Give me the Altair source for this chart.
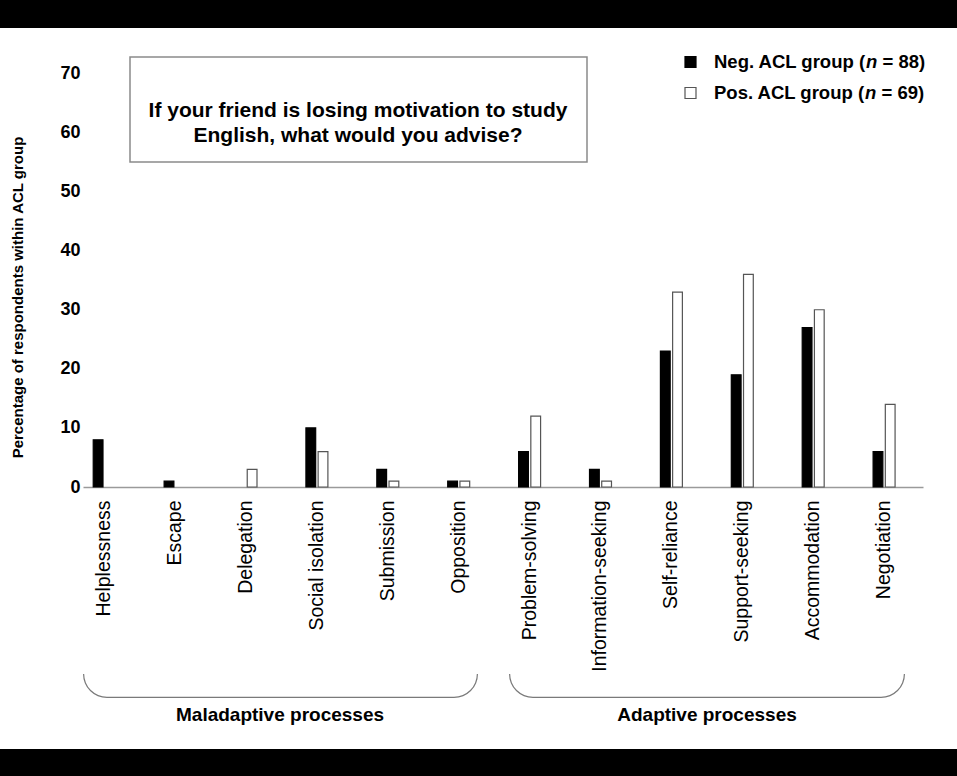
import altair as alt
import pandas as pd

# ---------------- data ----------------
categories = ["Helplessness", "Escape", "Delegation", "Social isolation", "Submission", "Opposition",
              "Problem-solving", "Information-seeking", "Self-reliance", "Support-seeking",
              "Accommodation", "Negotiation"]
neg_values = [8, 1, 0, 10, 3, 1, 6, 3, 23, 19, 27, 6]
pos_values = [0, 0, 3, 6, 1, 1, 12, 1, 33, 36, 30, 14]
groups = ["Neg. ACL group", "Pos. ACL group"]
group_n = ["88", "69"]
y_ticks = [0, 10, 20, 30, 40, 50, 60, 70]
box_title = ["If your friend is losing motivation to study", "English, what would you advise?"]
process_labels = ["Maladaptive processes", "Adaptive processes"]

rows = []
for c, n, p in zip(categories, neg_values, pos_values):
    rows.append({"category": c, "group": groups[0], "value": n})
    rows.append({"category": c, "group": groups[1], "value": p})
df = pd.DataFrame(rows)
one = pd.DataFrame({"k": [0]})

FONT = "Liberation Sans"

# ---------------- bars ----------------
bars = alt.Chart(df).transform_filter("datum.value > 0").mark_bar(strokeWidth=1.2).encode(
    x=alt.X("category:N", sort=categories,
            scale=alt.Scale(paddingInner=0.69, paddingOuter=0.269, align=0.268),
            axis=alt.Axis(title=None, labelAngle=270, labelAlign="right", labelBaseline="middle",
                          labelPadding=13, labelFontSize=19.5, labelFont=FONT, labelColor="black",
                          labelLimit=0, ticks=False, domainColor="#9a9a9a", domainWidth=1.5,
                          grid=False)),
    xOffset=alt.XOffset("group:N", sort=groups, scale=alt.Scale(paddingInner=0.2)),
    y=alt.Y("value:Q", scale=alt.Scale(domain=[0, 76], nice=False),
            axis=alt.Axis(values=y_ticks, title="Percentage of respondents within ACL group",
                          titleFont=FONT, titleFontSize=15, titleFontWeight="bold", titleColor="black",
                          titleX=-66, titleY=259, titleAngle=270, titleAlign="center",
                          titleBaseline="middle", labelFont=FONT, labelFontSize=18,
                          labelFontWeight="bold", labelColor="black", labelPadding=3,
                          ticks=False, domain=False, grid=False)),
    fill=alt.Fill("group:N", scale=alt.Scale(domain=groups, range=["black", "white"]), legend=None),
    stroke=alt.Stroke("group:N", scale=alt.Scale(domain=groups, range=["black", "#555555"]), legend=None),
)

# ---------------- decorations ----------------
def rect(x, x2, y, y2, fill, stroke=None, sw=0):
    kw = dict(fill=fill, strokeWidth=sw)
    if stroke:
        kw["stroke"] = stroke
    return alt.Chart(one).mark_rect(**kw).encode(
        x=alt.value(x), x2=alt.value(x2), y=alt.value(y), y2=alt.value(y2))

def text(t, x, y, size, align="left", weight="bold", style="normal", lh=None):
    kw = dict(font=FONT, fontSize=size, fontWeight=weight, fontStyle=style, align=align,
              baseline="middle", color="black")
    if lh:
        kw["lineHeight"] = lh
    return alt.Chart(one).mark_text(**kw).encode(x=alt.value(x), y=alt.value(y), text=alt.value(t))

# black bands (top 0-28 px, bottom 749-776 px of the page)
band_top = rect(-83, 874, -38, -10, "black")
band_bot = rect(-83, 874, 711, 738, "black")

# title box
box = rect(47, 504, 19, 124, "white", "#8a8a8a", 1.5)
box_text = text(box_title, 275, 73, 21, align="center", lh=25)

# legend (manual, to get the italic n)
W = {"N": 722, "e": 556, "g": 611, ".": 278, " ": 278, "A": 722, "C": 722, "L": 611, "r": 389,
     "o": 611, "u": 611, "p": 611, "(": 333, "n": 611, "=": 584, "8": 556, ")": 333, "P": 667,
     "s": 556, "6": 556, "9": 556}

def tw(s, size):
    return sum(W[ch] for ch in s) / 1000.0 * size

LSIZE = 18.5
legend_layers = []
row_y = [24, 55]
fills = ["black", "white"]
strokes = ["black", "#555555"]
for i, g in enumerate(groups):
    yc = row_y[i]
    legend_layers.append(rect(602, 613, yc - 5.5, yc + 5.5, fills[i], strokes[i], 1.2))
    x0 = 631
    p1 = g + " ("
    legend_layers.append(text(p1, x0, yc, LSIZE))
    x1 = x0 + tw(p1, LSIZE)
    legend_layers.append(text("n", x1, yc, LSIZE, style="italic"))
    x2 = x1 + tw("n", LSIZE) + tw(" ", LSIZE)
    legend_layers.append(text("= " + group_n[i] + ")", x2, yc, LSIZE))

# braces
BR = "#7a7a7a"
def arc(cx, cy, t1, t2):
    return alt.Chart(one).mark_arc(fill=BR).encode(
        x=alt.value(cx), y=alt.value(cy), radius=alt.value(24), radius2=alt.value(22.8),
        theta=alt.value(t1), theta2=alt.value(t2))

def hline(xa, xb, y):
    return alt.Chart(one).mark_rule(color=BR, strokeWidth=1.2).encode(
        x=alt.value(xa), x2=alt.value(xb), y=alt.value(y))

PI = 3.141592653589793
braces = []
for (xl, xr) in [(0, 395), (426, 822)]:
    braces.append(arc(xl + 24, 636, PI, 1.5 * PI))
    braces.append(arc(xr - 24, 636, 0.5 * PI, PI))
    braces.append(hline(xl + 24, xr - 24, 659.4))

brace_text = [text(process_labels[0], 197, 677, 19, align="center"),
              text(process_labels[1], 624, 677, 19, align="center")]

chart = alt.layer(
    band_top, band_bot, box, box_text, *legend_layers, bars, *braces, *brace_text
).properties(
    width=840, height=449,
    padding={"left": 83, "top": 38, "right": 34, "bottom": 289},
    autosize=alt.AutoSizeParams(type="none"),
    background="white",
).configure_view(stroke=None)

chart.save("out.html", embed_options={"renderer": "svg", "actions": False})
